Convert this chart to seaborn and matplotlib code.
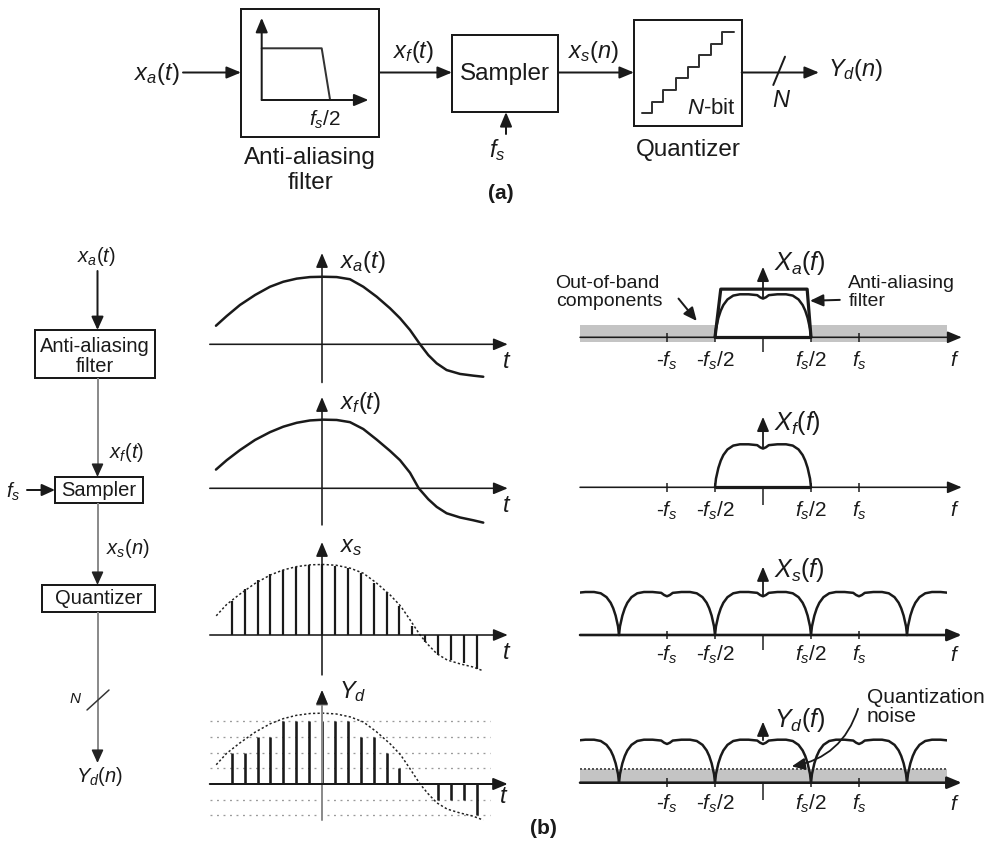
import numpy as np
import matplotlib
matplotlib.use("Agg")
import matplotlib.pyplot as plt
import seaborn as sns
from matplotlib.patches import Rectangle

# ------------------------------------------------------------------ data
# analog signal x_a(t) (t in sampling periods, amplitude in quantiser steps)
xa_t = [-8.22, -7.39, -6.36, -5.19, -4.03, -3.0, -1.96, -0.93, 0.10, 1.14, 2.17, 3.2,
        4.24, 5.27, 6.05, 6.82, 7.6, 8.24, 8.89, 9.66, 10.7, 11.73, 12.5]
xa_v = [1.19, 1.81, 2.52, 3.16, 3.69, 4.01, 4.21, 4.31, 4.33, 4.31, 4.17, 3.69,
        3.05, 2.31, 1.67, 0.92, 0.0, -0.69, -1.22, -1.65, -1.90, -2.01, -2.08]
# filtered signal x_f(t)
xf_t = [-8.22, -7.39, -6.36, -5.19, -4.03, -3.0, -1.96, -0.93, 0.10, 1.14, 2.17, 3.2,
        4.24, 5.27, 6.05, 6.82, 7.5, 8.24, 8.89, 9.66, 10.7, 11.73, 12.5]
xf_v = [1.2, 1.8, 2.45, 3.1, 3.6, 3.95, 4.2, 4.35, 4.4, 4.38, 4.24, 3.8,
        3.12, 2.4, 1.8, 1.0, 0.0, -0.7, -1.19, -1.6, -1.87, -2.05, -2.2]
# envelope of the sampled signal (dashed)
env_t = [-8.2, -7.4, -6.4, -5.2, -4.0, -3.0, -2.0, -0.9, 0.1, 1.1, 2.2, 3.2,
         4.2, 5.3, 6.1, 6.8, 7.6, 8.2, 8.9, 9.7, 10.7, 11.7, 12.5]
env_v = [1.23, 1.95, 2.6, 3.3, 3.85, 4.17, 4.38, 4.5, 4.52, 4.47, 4.28, 3.96,
         3.35, 2.55, 1.85, 1.0, 0.0, -0.6, -1.2, -1.6, -1.85, -2.05, -2.3]
# samples x_s(n) and quantised samples Y_d(n)
n_idx = [-7, -6, -5, -4, -3, -2, -1, 0, 1, 2, 3, 4, 5, 6, 7, 8, 9, 10, 11, 12]
xs_v = [2.15, 2.94, 3.55, 3.94, 4.19, 4.37, 4.49, 4.52, 4.45, 4.28, 3.98, 3.33,
        2.73, 1.83, 0.6, -0.45, -1.29, -1.61, -1.81, -2.19]
yd_v = [2, 2, 3, 3, 4, 4, 4, 4, 4, 4, 3, 3, 2, 1, 0, 0, -1, -1, -1, -2]
q_levels = [-2, -1, 1, 2, 3, 4]

# spectrum of one band-limited lobe (f in units of f_s)
lobe_f = [-0.5, -0.49, -0.465, -0.44, -0.413, -0.37, -0.31, -0.24, -0.15, -0.06, -0.03, 0.0,
          0.03, 0.06, 0.15, 0.24, 0.31, 0.37, 0.413, 0.44, 0.465, 0.49, 0.5]
lobe_a = [0.0, 0.2, 0.45, 0.62, 0.75, 0.88, 0.97, 1.0, 1.0, 0.98, 0.93, 0.9,
          0.93, 0.98, 1.0, 1.0, 0.97, 0.88, 0.75, 0.62, 0.45, 0.2, 0.0]
image_centres = [-2, -1, 0, 1, 2]
band_lo, band_hi = -1.906, 1.917
filt_f = [-0.5, -0.44, 0.46, 0.5]
filt_a = [0.0, 1.12, 1.12, 0.0]
oob_level = 0.28
noise_level = 0.31
tick_pos = [-1, -0.5, 0.5, 1]
tick_lab = [r"-$f_s$", r"-$f_s$/2", r"$f_s$/2", r"$f_s$"]

# block-diagram mini graphics
mini_f = [0.0, 1.0, 1.14]
mini_g = [1.0, 1.0, 0.0]
stair_x = [0, 0.8, 1.8, 2.9, 3.9, 4.9, 5.9, 6.9, 7.9]
stair_y = [0, 1, 2, 3, 4, 5, 6, 7, 7]

# ------------------------------------------------------------------ style
sns.set_theme(style="white")
plt.rcParams["font.family"] = ["Liberation Sans", "DejaVu Sans"]
plt.rcParams["mathtext.fontset"] = "custom"
plt.rcParams["mathtext.it"] = "Liberation Sans:italic"
plt.rcParams["mathtext.rm"] = "Liberation Sans"
plt.rcParams["mathtext.default"] = "it"

W, H = 997, 841
PT = 72 / 100.0
fig = plt.figure(figsize=(W / 100, H / 100), dpi=100)
fig.patch.set_facecolor("white")
base = fig.add_axes([0, 0, 1, 1])
base.set_xlim(0, W)
base.set_ylim(H, 0)
base.axis("off")


def panel(x0, y0, sx, sy, xlim, ylim):
    left = (x0 + sx * xlim[0]) / W
    width = sx * (xlim[1] - xlim[0]) / W
    top_px = y0 - sy * ylim[1]
    bot_px = y0 - sy * ylim[0]
    ax = fig.add_axes([left, 1 - bot_px / H, width, (bot_px - top_px) / H])
    ax.set_xlim(*xlim)
    ax.set_ylim(*ylim)
    ax.axis("off")
    ax.patch.set_alpha(0)
    return ax


def arrow(ax, x0, y0, x1, y1, color="k", lw=2.0, hl=12, hw=5):
    ms = 10
    s = ms * 100 / 72
    ax.annotate("", xy=(x1, y1), xytext=(x0, y0), annotation_clip=False,
                arrowprops=dict(arrowstyle=f"-|>,head_length={hl / s:.3f},head_width={hw / s:.3f}",
                                mutation_scale=ms, lw=lw * PT, color=color,
                                shrinkA=0, shrinkB=0))


def gray_arrow(x, y0, y1):
    base.plot([x, x], [y0, y1 - 8], color="#8c8c8c", lw=2 * PT, solid_capstyle="butt")
    arrow(base, x, y1 - 10, x, y1, color="#222222", lw=1.5, hl=11, hw=5)


def box(x0, y0, x1, y1, lw=2.0):
    base.add_patch(Rectangle((x0, y0), x1 - x0, y1 - y0, fill=False, ec="k", lw=lw * PT))


def txt(ax, x, y, s, size, ha="center", va="center", **kw):
    ax.text(x, y, s, fontsize=size, ha=ha, va=va, color="#1a1a1a", **kw)


# ------------------------------------------------------------------ (a) block diagram
txt(base, 157, 74, r"$x_a(t)$", 17)
arrow(base, 183, 72.5, 241, 72.5)
box(240.7, 9.3, 379.3, 137.3)
mini = panel(261.7, 100, 60, 51.7, (-0.2, 1.9), (-0.2, 1.7))
arrow(mini, 0, 0, 1.78, 0, lw=2)
arrow(mini, 0, 0, 0, 1.59, lw=2)
sns.lineplot(x=mini_f, y=mini_g, ax=mini, color="#333333", lw=2 * PT, sort=False,
             estimator=None, legend=False)
txt(mini, 1.06, -0.39, r"$f_s$/2", 15)
txt(base, 310, 158, "Anti-aliasing", 17.5)
txt(base, 310, 183, "filter", 17.5)

txt(base, 413, 52, r"$x_f(t)$", 17)
arrow(base, 379.3, 72.5, 452, 72.5)
box(451.7, 35, 558.3, 111.7)
txt(base, 505, 73.5, "Sampler", 17.5)
arrow(base, 506, 134, 506, 112)
txt(base, 497, 150, r"$f_s$", 17)

txt(base, 594, 52, r"$x_s(n)$", 17)
arrow(base, 558.3, 72.5, 634, 72.5)
box(634, 20, 741.7, 126)
quant = panel(642.3, 113.3, 11.6, 11.6, (-0.6, 8.6), (-0.6, 7.6))
sns.lineplot(x=stair_x, y=stair_y, ax=quant, color="#333333", lw=2 * PT, sort=False,
             estimator=None, legend=False, drawstyle="steps-post")
txt(base, 711, 108, r"$N$-bit", 16)
txt(base, 688, 150, "Quantizer", 17.5)
arrow(base, 741.7, 72.5, 819, 72.5)
base.plot([773.3, 785], [85, 56.7], color="k", lw=2 * PT)
txt(base, 782, 101, r"$N$", 17)
txt(base, 828, 70, r"$Y_d(n)$", 17, ha="left")
txt(base, 501, 193, "(a)", 15, weight="bold")

# ------------------------------------------------------------------ (b) left chain
LX = 97.5
txt(base, 96, 256, r"$x_a(t)$", 14.5)
arrow(base, LX, 271, LX, 330, lw=2, hl=11, hw=5)
box(35, 330, 155, 378)
txt(base, 95, 346, "Anti-aliasing", 14.5)
txt(base, 95, 366, "filter", 14.5)
gray_arrow(LX, 378, 477)
txt(base, 127, 452, r"$x_f(t)$", 14.5)
box(55, 477, 143.3, 503)
txt(base, 99, 490, "Sampler", 14.5)
txt(base, 13, 492, r"$f_s$", 14.5)
arrow(base, 27, 490, 55, 490, lw=2, hl=11, hw=5)
gray_arrow(LX, 503, 585)
txt(base, 128, 549, r"$x_s(n)$", 14.5)
box(42, 585, 155, 612)
txt(base, 98.5, 598.5, "Quantizer", 14.5)
gray_arrow(LX, 612, 763)
base.plot([87, 109], [710, 690], color="#333333", lw=1.5 * PT)
txt(base, 76, 699, r"$N$", 11)
txt(base, 100, 777, r"$Y_d(n)$", 14.5)
txt(base, 543, 828, "(b)", 15, weight="bold")

# ------------------------------------------------------------------ time-domain panels
SX, SY = 12.9, 15.6


def time_panel(y0, vtop, vbot, label, lab_v, vcol="k"):
    ax = panel(322, y0, SX, SY, (-9.5, 15.5), (-3.2, 6.6))
    arrow(ax, -8.7, 0, 14.4, 0, lw=1.6, hl=12, hw=5)
    arrow(ax, 0, vbot, 0, vtop, lw=1.6, hl=12, hw=5, color=vcol)
    txt(ax, 1.4, lab_v, label, 17, ha="left")
    txt(ax, 14.3, -1.15, r"$t$", 17)
    return ax


ax1 = time_panel(344.3, 5.85, -2.45, r"$x_a(t)$", 5.28)
sns.lineplot(x=xa_t, y=xa_v, ax=ax1, color="k", lw=2.5 * PT, sort=False, estimator=None, legend=False)

ax2 = time_panel(488.3, 5.85, -2.35, r"$x_f(t)$", 5.45)
sns.lineplot(x=xf_t, y=xf_v, ax=ax2, color="k", lw=2.5 * PT, sort=False, estimator=None, legend=False)

ax3 = time_panel(635, 5.96, -2.56, r"$x_s$", 5.66)
ax3.vlines(n_idx, 0, xs_v, color="k", lw=2.2 * PT)
sns.lineplot(x=env_t, y=env_v, ax=ax3, color="#222222", lw=1.5 * PT, sort=False, estimator=None,
             legend=False, linestyle=(0, (1.5, 1.5)))

ax4 = panel(322, 784, SX, 15.67, (-9.5, 15.5), (-3.2, 6.6))
ax4.hlines(q_levels, -8.7, 13.0, color="#9a9a9a", lw=1.3 * PT, linestyles=(0, (1.5, 3.5)))
arrow(ax4, 0, -2.3, 0, 6.0, lw=2, hl=12, hw=5, color="#8c8c8c")
ax4.annotate("", xy=(0, 6.0), xytext=(0, 5.2),
             arrowprops=dict(arrowstyle="-|>,head_length=0.86,head_width=0.36", mutation_scale=10,
                             lw=1.5 * PT, color="k", shrinkA=0, shrinkB=0))
ax4.vlines(n_idx, 0, yd_v, color="k", lw=2.6 * PT)
arrow(ax4, -8.7, 0, 14.4, 0, lw=2, hl=12, hw=5)
sns.lineplot(x=env_t, y=env_v, ax=ax4, color="#222222", lw=1.5 * PT, sort=False, estimator=None,
             legend=False, linestyle=(0, (1.5, 1.5)))
txt(ax4, 1.3, 5.89, r"$Y_d$", 17, ha="left")
txt(ax4, 14.1, -0.85, r"$t$", 17)

# ------------------------------------------------------------------ spectrum panels
FX, FY = 96, 43


def spec_panel(y0, axis_lw, label, lab_v, arr_from, arr_to, tick_v=-0.55, ctick=-0.35):
    ax = panel(763, y0, FX, FY, (-2.4, 2.6), (-0.9, 2.2))
    arrow(ax, band_lo, 0, 2.07, 0, lw=axis_lw, hl=12, hw=5)
    ax.vlines(tick_pos, -0.1, 0.1, color="k", lw=1.5 * PT)
    ax.vlines([0], ctick, 0, color="k", lw=1.5 * PT)
    arrow(ax, 0, arr_from, 0, arr_to, lw=1.8, hl=12, hw=5)
    for p, s in zip(tick_pos, tick_lab):
        txt(ax, p, tick_v, s, 15)
    txt(ax, 2.0, tick_v, r"$f$", 15)
    txt(ax, 0.11, lab_v, label, 18, ha="left")
    return ax


def draw_lobes(ax, centres):
    clip = Rectangle((band_lo, -1), band_hi - band_lo, 4, transform=ax.transData)
    for c in centres:
        sns.lineplot(x=[c + f for f in lobe_f], y=lobe_a, ax=ax, color="k", lw=2.5 * PT,
                     sort=False, estimator=None, legend=False)
        ax.lines[-1].set_clip_path(clip)


# S1: X_a(f)
s1 = spec_panel(337.3, 1.6, r"$X_a(f)$", 1.72, 0.93, 1.64)
s1.fill_between([band_lo, -0.5], -0.1, oob_level, color="#c4c4c4", lw=0, zorder=0)
s1.fill_between([0.5, band_hi], -0.1, oob_level, color="#c4c4c4", lw=0, zorder=0)
draw_lobes(s1, [0])
sns.lineplot(x=filt_f, y=filt_a, ax=s1, color="k", lw=3.2 * PT, sort=False, estimator=None, legend=False)
s1.hlines(0, -0.5, 0.5, color="k", lw=3.2 * PT)
txt(s1, -2.17, 1.24, "Out-of-band", 14, ha="left")
txt(s1, -2.15, 0.83, "components", 14, ha="left")
arrow(s1, -0.88, 0.9, -0.69, 0.38, lw=2, hl=11, hw=5)
txt(s1, 0.89, 1.24, "Anti-aliasing", 14, ha="left")
txt(s1, 0.89, 0.83, "filter", 14, ha="left")
arrow(s1, 0.80, 0.87, 0.49, 0.85, lw=2, hl=11, hw=5)

# S2: X_f(f)
s2 = spec_panel(487.3, 1.6, r"$X_f(f)$", 1.49, 0.93, 1.64, ctick=-0.41)
draw_lobes(s2, [0])
s2.hlines(0, -0.5, 0.5, color="k", lw=3.2 * PT)

# S3: X_s(f)
s3 = spec_panel(635, 2.6, r"$X_s(f)$", 1.51, 0.93, 1.59, tick_v=-0.47)
draw_lobes(s3, image_centres)

# S4: Y_d(f)
s4 = spec_panel(782.7, 2.6, r"$Y_d(f)$", 1.46, 0.99, 1.42, tick_v=-0.5, ctick=-0.4)
s4.fill_between([band_lo, band_hi], 0, noise_level, color="#c4c4c4", lw=0, zorder=0)
s4.hlines(noise_level, band_lo, band_hi, color="#555555", lw=2 * PT, linestyles=(0, (1, 1)))
draw_lobes(s4, image_centres)
txt(s4, 1.08, 1.99, "Quantization", 15, ha="left")
txt(s4, 1.08, 1.53, "noise", 15, ha="left")
s4.annotate("", xy=(0.30, 0.38), xytext=(0.99, 1.72), annotation_clip=False,
            arrowprops=dict(arrowstyle="-|>,head_length=0.8,head_width=0.36", mutation_scale=10,
                            lw=1.8 * PT, color="k", shrinkA=0, shrinkB=0,
                            connectionstyle="arc3,rad=-0.3"))

fig.savefig("out.png", dpi=100)
